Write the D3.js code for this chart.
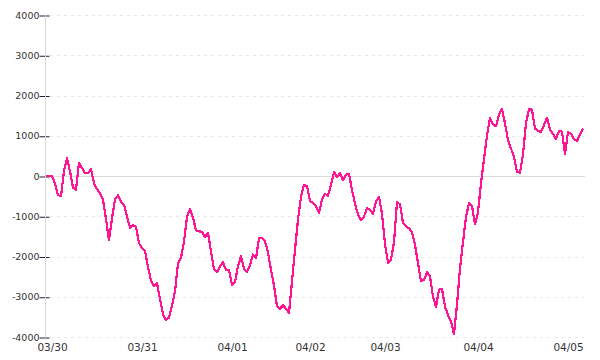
<!DOCTYPE html>
<html>
<head>
<meta charset="utf-8">
<script src="https://cdn.jsdelivr.net/npm/d3@7"></script>
<style>
html,body{margin:0;padding:0;background:#fff;}
svg{display:block;}
</style>
</head>
<body>
<svg id="chart" width="600" height="360"></svg>
<script>
// values sampled at evenly spaced points along the time axis
const values = [
0,0,0,-190,-475,-505,130,440,120,-290,
-340,330,200,70,65,180,-180,-325,-430,-590,
-1070,-1600,-1050,-590,-480,-645,-710,-1010,-1285,-1225,
-1260,-1670,-1785,-1860,-2260,-2600,-2735,-2670,-3060,-3430,
-3580,-3520,-3230,-2870,-2170,-2035,-1630,-1020,-815,-1030,
-1350,-1375,-1385,-1520,-1410,-1870,-2320,-2390,-2240,-2145,
-2335,-2345,-2700,-2640,-2240,-1990,-2300,-2380,-2220,-1950,
-2040,-1550,-1550,-1620,-1900,-2335,-2720,-3240,-3300,-3210,
-3300,-3400,-2620,-1830,-1080,-520,-220,-245,-630,-670,
-740,-925,-575,-445,-490,-225,100,-35,75,-110,
35,50,-340,-695,-950,-1095,-1005,-805,-840,-940,
-640,-515,-935,-1695,-2155,-2080,-1650,-650,-700,-1165,
-1240,-1300,-1395,-1710,-2160,-2615,-2585,-2390,-2500,-2995,
-3255,-2820,-2810,-3245,-3455,-3620,-3925,-3200,-2290,-1640,
-1010,-680,-745,-1200,-900,-180,420,1000,1445,1280,
1235,1535,1665,1310,895,680,480,100,85,530,
1320,1655,1650,1170,1130,1090,1265,1450,1155,1050,
915,1125,1100,550,1095,1040,920,865,1025,1185
];
const dayTickIndex = [2, 32, 62, 88, 113, 144, 174];
const dayTickLabels = ["03/30", "03/31", "04/01", "04/02", "04/03", "04/04", "04/05"];
const yTicks = [4000, 3000, 2000, 1000, 0, -1000, -2000, -3000, -4000];

const svg = d3.select("#chart");
const x = d3.scaleLinear().domain([0, values.length - 1]).range([46, 583]);
const y = d3.scaleLinear().domain([-4000, 4000]).range([337, 15]);

// grid
svg.append("g").selectAll("line").data(yTicks.filter(d => d !== 0)).join("line")
  .attr("x1", 50).attr("x2", 584)
  .attr("y1", d => Math.round(y(d)) + 0.5).attr("y2", d => Math.round(y(d)) + 0.5)
  .attr("stroke", "#e8e8e8").attr("stroke-width", 1).attr("stroke-dasharray", "3,4");
svg.append("line")
  .attr("x1", 45).attr("x2", 585)
  .attr("y1", Math.round(y(0)) + 0.5).attr("y2", Math.round(y(0)) + 0.5)
  .attr("stroke", "#dcdcdc").attr("stroke-width", 1);

// y axis
const yAxis = d3.axisLeft(y).tickValues(yTicks).tickSize(0).tickPadding(6)
  .tickFormat(d => String(d));
const gy = svg.append("g").attr("transform", "translate(45.5,0)").call(yAxis);
gy.select(".domain").remove();
gy.selectAll("text").attr("font-family", "DejaVu Sans, sans-serif").attr("font-size", 9.5).attr("fill", "#333");
gy.selectAll(".tick").append("line").attr("x1", -6).attr("x2", 4)
  .attr("y1", 0.5).attr("y2", 0.5).attr("stroke", "#222").attr("stroke-width", 1);
svg.append("line").attr("x1", 45.5).attr("x2", 45.5).attr("y1", 15).attr("y2", 338)
  .attr("stroke", "#d8d8d8").attr("stroke-width", 1);

// x axis labels
const xAxis = d3.axisBottom(x).tickValues(dayTickIndex).tickSize(0).tickPadding(0)
  .tickFormat((d, i) => dayTickLabels[i]);
const gx = svg.append("g").attr("transform", "translate(0,344)").call(xAxis);
gx.select(".domain").remove();
gx.selectAll("text").attr("font-family", "DejaVu Sans, sans-serif").attr("font-size", 10.5).attr("fill", "#333");

// line
const line = d3.line().x((d, i) => x(i)).y(d => y(d));
svg.append("path").datum(values)
  .attr("d", line).attr("fill", "none")
  .attr("stroke", "#ff1493").attr("stroke-width", 2.2).attr("stroke-linejoin", "round")
  .attr("shape-rendering", "crispEdges");
</script>
</body>
</html>
